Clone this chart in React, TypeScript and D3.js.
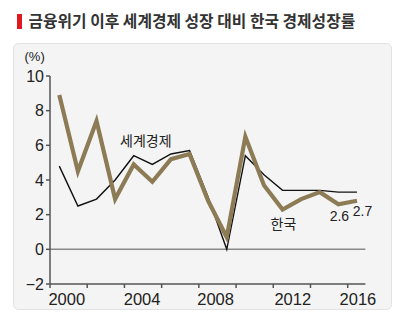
import React from "react";
import * as d3 from "d3";

const years = [2000, 2001, 2002, 2003, 2004, 2005, 2006, 2007, 2008, 2009, 2010, 2011, 2012, 2013, 2014, 2015, 2016];
const korea = [8.9, 4.5, 7.4, 2.9, 4.9, 3.9, 5.2, 5.5, 2.8, 0.7, 6.5, 3.7, 2.3, 2.9, 3.3, 2.6, 2.8];
const world = [4.8, 2.5, 2.9, 4.0, 5.4, 4.9, 5.5, 5.7, 3.0, 0.0, 5.4, 4.3, 3.4, 3.4, 3.4, 3.3, 3.3];
const yTicks = [-2, 0, 2, 4, 6, 8, 10];
const xTickPos = [1999.5, 2001.5, 2003.5, 2005.5, 2007.5, 2009.5, 2011.5, 2013.5, 2015.5];
const xLabels = ["2000", "2004", "2008", "2012", "2016"];
const xLabelPos = [2000.4, 2004.45, 2008.4, 2012.55, 2016.05];
const title = "금융위기 이후 세계경제 성장 대비 한국 경제성장률";

const KR = "'Noto Sans CJK KR', 'Noto Sans', sans-serif";
const NUM = "'Liberation Sans', Arial, sans-serif";

export default function App() {
  const x = d3.scaleLinear().domain([2000, 2016]).range([59.3, 357]);
  const y = d3.scaleLinear().domain([-2, 10]).range([284, 76]);
  const line = d3
    .line<number>()
    .x((_, i) => x(years[i]))
    .y((d) => y(d));
  const x0 = x(1999.5);
  const x1 = x(2016.45);

  return (
    <svg
      width={400}
      height={322}
      style={{ position: "absolute", left: 0, top: 0, background: "#fff" }}
    >
      <rect x={17} y={14} width={5} height={15} fill="#e0191e" />
      <text x={28.5} y={27} fontFamily={KR} fontWeight={700} fontSize={15.8} fill="#333">
        {title}
      </text>
      <rect x={13.5} y={43.5} width={378} height={266} rx={5} fill="#f4f4f4" stroke="#e2e2e2" />
      <text x={24.5} y={61} fontFamily={NUM} fontSize={13} fill="#222">
        (%)
      </text>
      {/* zero line */}
      <line x1={x0} x2={x1} y1={y(0)} y2={y(0)} stroke="#888" strokeWidth={1.5} />
      {/* y axis */}
      <line x1={x0} x2={x0} y1={y(10)} y2={y(-2)} stroke="#555" strokeWidth={1.5} />
      {yTicks.map((t) => (
        <g key={t}>
          <line x1={x0 - 4} x2={x0} y1={y(t)} y2={y(t)} stroke="#555" strokeWidth={1.5} />
          <text
            x={x0 - 6}
            y={y(t)}
            dy="0.36em"
            textAnchor="end"
            fontFamily={NUM}
            fontSize={16}
            fill="#222"
          >
            {t < 0 ? "\u2212" + Math.abs(t) : t}
          </text>
        </g>
      ))}
      {/* x axis */}
      <line x1={x0} x2={x1} y1={y(-2)} y2={y(-2)} stroke="#555" strokeWidth={1.5} />
      {xTickPos.map((t) => (
        <line key={t} x1={x(t)} x2={x(t)} y1={y(-2)} y2={y(-2) + 4} stroke="#555" strokeWidth={1.5} />
      ))}
      {xLabels.map((l, i) => (
        <text
          key={l}
          x={x(xLabelPos[i])}
          y={305}
          textAnchor="middle"
          fontFamily={NUM}
          fontSize={16.5}
          fill="#222"
        >
          {l}
        </text>
      ))}
      <path d={line(world) || ""} fill="none" stroke="#111" strokeWidth={1.4} strokeLinejoin="miter" />
      <path d={line(korea) || ""} fill="none" stroke="#8c7b55" strokeWidth={4.2} strokeLinejoin="miter" />
      <text x={120} y={146} fontFamily={KR} fontSize={14} fill="#222">
        세계경제
      </text>
      <text x={270.5} y={228.5} fontFamily={KR} fontSize={14} fill="#222">
        한국
      </text>
      <text x={x(2015) + 1} y={221} textAnchor="middle" fontFamily={NUM} fontSize={14} fill="#222">
        {korea[15].toFixed(1)}
      </text>
      <text x={x(2016) + 5.5} y={216} textAnchor="middle" fontFamily={NUM} fontSize={14} fill="#222">
        2.7
      </text>
    </svg>
  );
}
